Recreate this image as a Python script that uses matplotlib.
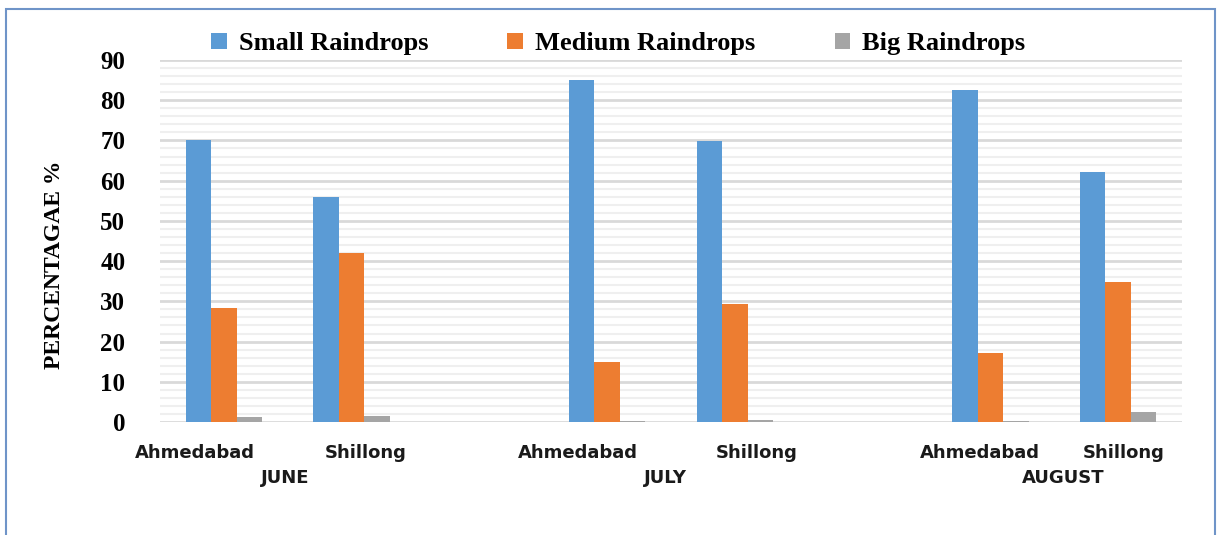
import matplotlib.pyplot as plt
import matplotlib.patches as patches
import numpy as np

# raindrop size distribution per station and month (percent)
cities = ['Ahmedabad', 'Shillong', '', 'Ahmedabad', 'Shillong', '', 'Ahmedabad', 'Shillong']
months = ['JUNE', 'JULY', 'AUGUST']
small = [70.1, 56.0, np.nan, 85.1, 69.9, np.nan, 82.6, 62.2]
medium = [28.4, 42.1, np.nan, 14.8, 29.3, np.nan, 17.2, 34.8]
big = [1.2, 1.6, np.nan, 0.3, 0.5, np.nan, 0.3, 2.4]

series = [('Small Raindrops', small, '#5B9BD5'),
          ('Medium Raindrops', medium, '#ED7D31'),
          ('Big Raindrops', big, '#A5A5A5')]

fig = plt.figure(figsize=(12.17, 5.35), dpi=100)
ax = fig.add_axes([0.1315, 0.2112, 0.8397, 0.6767])

x = np.arange(len(cities))
w = 0.2
for i, (name, vals, col) in enumerate(series):
    ax.bar(x + (i - 1) * w, vals, w, color=col, label=name, zorder=3)

ax.set_xlim(-0.5, len(cities) - 0.5)
ax.set_ylim(0, 90)
ax.set_yticks(np.arange(0, 91, 10))
ax.set_yticks(np.arange(0, 91, 2), minor=True)
ax.grid(axis='y', which='major', color='#D9D9D9', linewidth=2, zorder=0)
ax.grid(axis='y', which='minor', color='#EFEFEF', linewidth=1.5, zorder=0)
for s in ax.spines.values():
    s.set_visible(False)
ax.tick_params(axis='y', which='both', length=0, pad=25)
ax.tick_params(axis='x', which='both', length=0)
ax.set_xticks([])
for t in ax.get_yticklabels():
    t.set_fontfamily('Liberation Serif')
    t.set_fontweight('bold')
    t.set_fontsize(18)

fig.text(55 / 1217, 1 - 265 / 535, 'PERCENTAGAE %', rotation=90, ha='center', va='center',
         fontfamily='Liberation Serif', fontweight='bold', fontsize=17)

# station labels and month labels under the bars
lab_x = [-0.23, 1.11, None, 2.77, 4.17, None, 5.92, 7.04]
for lx, name in zip(lab_x, cities):
    if lx is None:
        continue
    ax.text(lx, -7.8, name, ha='center', va='center', fontsize=13,
            fontweight='bold', fontfamily='DejaVu Sans', color='#1a1a1a')
for mx, m in zip([0.48, 3.46, 6.57], months):
    ax.text(mx, -14.0, m, ha='center', va='center', fontsize=13,
            fontweight='bold', fontfamily='DejaVu Sans', color='#1a1a1a')

leg = fig.legend(loc='center', bbox_to_anchor=(0.508, 0.918), ncol=3, frameon=False,
                 prop={'family': 'Liberation Serif', 'weight': 'bold', 'size': 19},
                 handlelength=0.6, handleheight=0.6, handletextpad=0.45,
                 columnspacing=3.0)

# outer frame
fig.patches.append(patches.Rectangle((6 / 1217, -0.1), 1209 / 1217, 1.1 - 9 / 535,
                                     transform=fig.transFigure, fill=False,
                                     edgecolor='#6F94C8', linewidth=1.5))

fig.savefig('out.png', dpi=100)
